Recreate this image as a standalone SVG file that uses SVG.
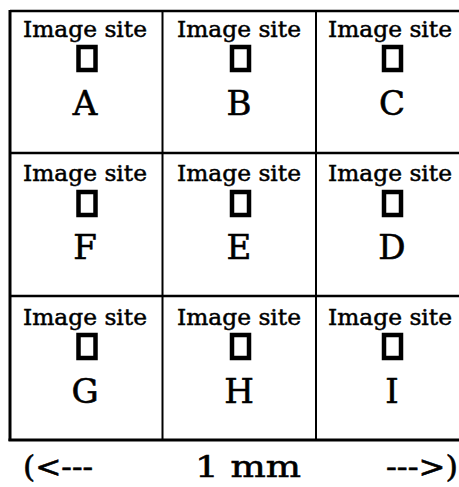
<svg xmlns="http://www.w3.org/2000/svg" width="459" height="487" viewBox="0 0 459 487">
<style>
.site{font-family:"DejaVu Serif","Liberation Serif",serif;font-size:23px;text-anchor:middle;fill:#000;stroke:#000;stroke-width:0.5}
.lab{font-family:"DejaVu Serif","Liberation Serif",serif;font-size:34px;text-anchor:middle;fill:#000;stroke:#000;stroke-width:0.6}
.sq{fill:none;stroke:#000;stroke-width:4.5}
.ln{stroke:#000;fill:none}
.scale{font-family:"DejaVu Serif","Liberation Serif",serif;font-size:30px;fill:#000;stroke:#000;stroke-width:0.6}
</style>
<rect width="459" height="487" fill="#fff"/>
<g id="connectors">
<line class="ln" x1="10" y1="11" x2="459" y2="11" stroke-width="2.5"/>
<line class="ln" x1="10" y1="153" x2="459" y2="153" stroke-width="2.5"/>
<line class="ln" x1="10" y1="296" x2="459" y2="296" stroke-width="2.5"/>
<line class="ln" x1="8.5" y1="440" x2="459" y2="440" stroke-width="3"/>
<line class="ln" x1="10" y1="10" x2="10" y2="441" stroke-width="3"/>
<line class="ln" x1="162.5" y1="10" x2="162.5" y2="441" stroke-width="2"/>
<line class="ln" x1="316" y1="10" x2="316" y2="441" stroke-width="2"/>
</g>
<g id="A"><text class="site" x="85" y="37" textLength="124" lengthAdjust="spacingAndGlyphs">Image site</text><rect class="sq" x="78.5" y="47" width="17" height="23"/><text class="lab" x="85" y="115">A</text></g>
<g id="B"><text class="site" x="239" y="37" textLength="124" lengthAdjust="spacingAndGlyphs">Image site</text><rect class="sq" x="232" y="47" width="17" height="23"/><text class="lab" x="239" y="115">B</text></g>
<g id="C"><text class="site" x="390" y="37" textLength="124" lengthAdjust="spacingAndGlyphs">Image site</text><rect class="sq" x="384" y="47" width="17" height="23"/><text class="lab" x="392" y="115">C</text></g>
<g id="F"><text class="site" x="85" y="181" textLength="124" lengthAdjust="spacingAndGlyphs">Image site</text><rect class="sq" x="78.5" y="192" width="17" height="23"/><text class="lab" x="85" y="259">F</text></g>
<g id="E"><text class="site" x="239" y="181" textLength="124" lengthAdjust="spacingAndGlyphs">Image site</text><rect class="sq" x="232" y="192" width="17" height="23"/><text class="lab" x="239" y="259">E</text></g>
<g id="D"><text class="site" x="390" y="181" textLength="124" lengthAdjust="spacingAndGlyphs">Image site</text><rect class="sq" x="384" y="192" width="17" height="23"/><text class="lab" x="392" y="259">D</text></g>
<g id="G"><text class="site" x="85" y="325" textLength="124" lengthAdjust="spacingAndGlyphs">Image site</text><rect class="sq" x="78.5" y="335" width="17" height="23"/><text class="lab" x="85" y="403">G</text></g>
<g id="H"><text class="site" x="239" y="325" textLength="124" lengthAdjust="spacingAndGlyphs">Image site</text><rect class="sq" x="232" y="335" width="17" height="23"/><text class="lab" x="239" y="403">H</text></g>
<g id="I"><text class="site" x="390" y="325" textLength="124" lengthAdjust="spacingAndGlyphs">Image site</text><rect class="sq" x="384" y="335" width="17" height="23"/><text class="lab" x="392" y="403">I</text></g>
<g id="scale">
<text class="scale" x="23" y="477" textLength="70" lengthAdjust="spacingAndGlyphs">(&lt;---</text>
<text class="scale" x="195" y="477" textLength="106" lengthAdjust="spacingAndGlyphs">1 mm</text>
<text class="scale" x="386" y="477" textLength="72" lengthAdjust="spacingAndGlyphs">---&gt;)</text>
</g>
</svg>
